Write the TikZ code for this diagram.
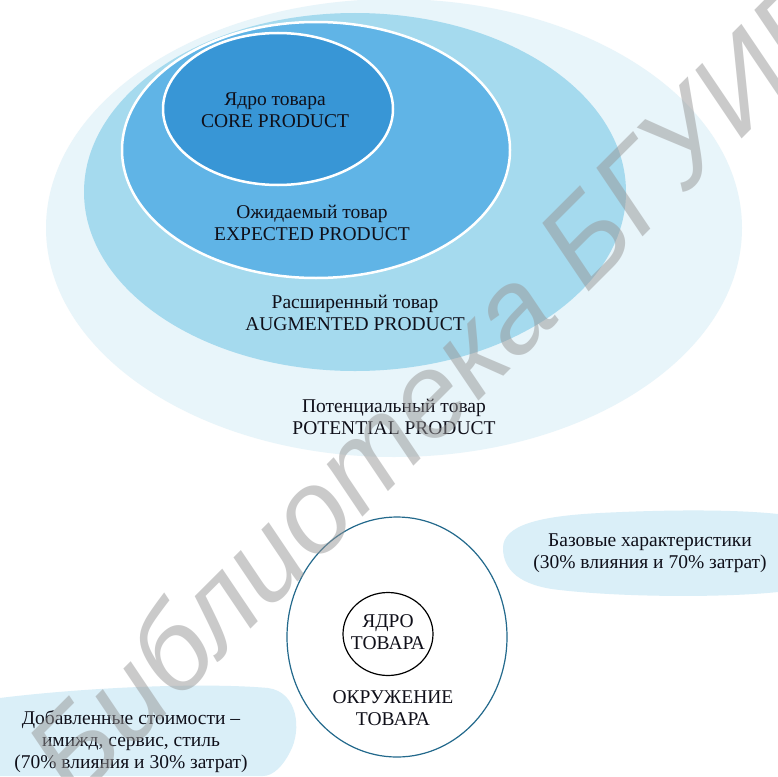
\documentclass[tikz,border=0pt]{standalone}
\usepackage{fontspec}
\setmainfont{Liberation Serif}
\newfontfamily\wmfont{Liberation Sans}
\usetikzlibrary{shapes.geometric}
\definecolor{potcol}{RGB}{232,245,250}
\definecolor{augcol}{RGB}{165,218,238}
\definecolor{expcol}{RGB}{96,180,230}
\definecolor{corecol}{RGB}{56,150,214}
\definecolor{brushcol}{RGB}{218,239,248}
\definecolor{ringcol}{RGB}{35,105,140}
\definecolor{wmcol}{RGB}{150,150,150}
\definecolor{inkcol}{RGB}{15,15,25}
\tikzset{
  lbl/.style={align=center, inner sep=0pt, font=\fontsize{19.5}{22}\selectfont, text=inkcol},
  layer/.style={ellipse, draw=white, line width=2.5pt, inner sep=0pt},
}
\begin{document}
\begin{tikzpicture}[x=1pt,y=-1pt]
\useasboundingbox (0,0) rectangle (778,776);
\clip (0,0) rectangle (778,776);
\fill[white] (0,0) rectangle (778,776);

% --- upper diagram: nested product levels ---
\node[ellipse, fill=potcol, minimum width=696pt, minimum height=458pt, inner sep=0pt] (pot) at (394,228) {};
\node[ellipse, fill=augcol, minimum width=542pt, minimum height=358pt, inner sep=0pt] (aug) at (355,192) {};
\node[layer, fill=expcol, minimum width=388pt, minimum height=256pt] (exp) at (316,150) {};
\node[layer, fill=corecol, minimum width=230pt, minimum height=152pt] (core) at (278,109) {};

\node[lbl] (coreT) at (275,110) {Ядро товара\\CORE PRODUCT};
\node[lbl] (expT) at (312,223) {Ожидаемый товар\\EXPECTED PRODUCT};
\node[lbl] (augT) at (355,313) {Расширенный товар\\AUGMENTED PRODUCT};
\node[lbl] (potT) at (394,417) {Потенциальный товар\\POTENTIAL PRODUCT};

% --- lower diagram ---
\fill[brushcol] (503,548) .. controls (503,525) and (540,516) .. (600,513)
  .. controls (680,509) and (740,510) .. (778,514) -- (778,592)
  .. controls (720,598) and (620,597) .. (560,590)
  .. controls (520,586) and (503,570) .. (503,548) -- cycle;
\fill[brushcol] (0,698) .. controls (80,688) and (200,682) .. (268,688)
  .. controls (298,692) and (302,730) .. (290,752)
  .. controls (283,766) and (273,776) .. (263,776) -- (0,776) -- cycle;

\node[ellipse, draw=ringcol, line width=1.2pt, minimum width=220pt, minimum height=240pt, inner sep=0pt] (env) at (397,637) {};
\node[ellipse, draw=black, line width=1.2pt, minimum width=90pt, minimum height=83pt, inner sep=0pt] (kern) at (388,634) {};

\node[lbl] (kernT) at (388,632) {ЯДРО\\ТОВАРА};
\node[lbl] (envT) at (393,708) {ОКРУЖЕНИЕ\\ТОВАРА};
\node[lbl] (baseT) at (650,553) {Базовые характеристики\\(30\% влияния и 70\% затрат)};
\node[lbl] (addT) at (131,742) {Добавленные стоимости –\\имижд, сервис, стиль\\(70\% влияния и 30\% затрат)};

% --- watermark ---
\node[rotate=45, text=wmcol, opacity=0.5, inner sep=0pt,
  font=\wmfont\itshape\fontsize{118}{118}\selectfont] (wm) at (435,385) {Библиотека БГУИР};
\end{tikzpicture}
\end{document}
